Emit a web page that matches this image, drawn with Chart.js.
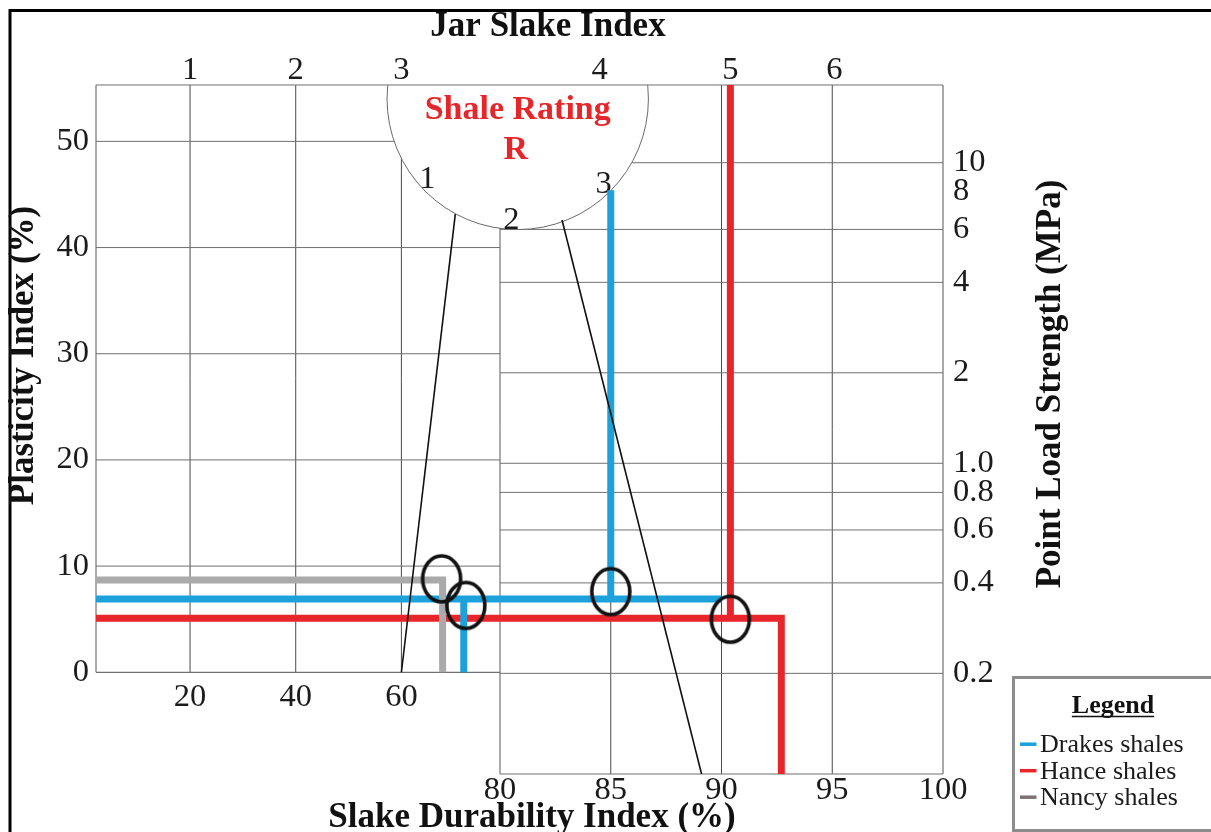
<!DOCTYPE html>
<html lang="en">
<head>
<meta charset="utf-8">
<title>Shale rating nomogram</title>
<script src="https://cdn.jsdelivr.net/npm/chart.js@4.4.1/dist/chart.umd.min.js"></script>
<style>
  html, body { margin: 0; padding: 0; background: #ffffff; overflow: hidden; }
  #wrap { position: relative; width: 1211px; height: 832px; }
</style>
</head>
<body>
<div id="wrap"><canvas id="nomogram"></canvas></div>
<script>
// ---------- tick values ----------
const piTicks      = [0, 10, 20, 30, 40, 50];                  // plasticity index, %
const sdiLowTicks  = [20, 40, 60];                             // slake durability, lower segment, %
const sdiHighTicks = [80, 85, 90, 95, 100];                    // slake durability, upper segment, %
const plsTicks     = [10, 8, 6, 4, 2, 1, 0.8, 0.6, 0.4, 0.2];  // point load strength, MPa
const plsTickText  = ['10', '8', '6', '4', '2', '1.0', '0.8', '0.6', '0.4', '0.2'];
const plsGridLines = [10, 6, 4, 2, 1, 0.8, 0.6, 0.4, 0.2];

// Jar slake classes and the durability column each one is read on
const jarClasses     = ['1', '2', '3', '4', '5', '6'];
const jarColumnsLow  = [20, 40, 60];
const jarColumnsHigh = [84.5, 90.4, 95.1];

// Shale rating classes written inside the rating arc
const ratingClasses = ['1', '2', '3'];

// ---------- scale extents ----------
const PI_RANGE       = [-9.58, 55.31];
const SDI_LOW_RANGE  = [2.2, 162.5];
const SDI_HIGH_RANGE = [61.76, 100];
const PLS_RANGE      = [0.0925, 18.14];

// ---------- shale groups ----------
const shaleNames  = ['Drakes shales', 'Hance shales', 'Nancy shales'];
const shaleColors = ['#1da1db', '#e8252a', '#aaaaaa'];
const legendMarks = ['#1da1db', '#e8252a', '#7c7272'];
const plasticity  = [6.9, 5.1, 8.7];          // PI (%) of Drakes, Hance, Nancy

const drakesDurability = 71.8;                // lower durability segment (%)
const nancyDurability  = 67.8;                // lower durability segment (%)
const hanceDurability  = 92.7;                // upper durability segment (%)
const drakesLineEnd    = 90;                  // Drakes PI line runs on to this column (%)
const drakesRise       = [85, 45.4];          // column (%) and top (PI %) of the Drakes rise
const hanceJarColumn   = 90.4;                // Hance jar slake drop line (%)

// Rings around the reading points  [durability %, PI %]
const ringsLow  = [[67.6, 8.8], [72.2, 6.3]];
const ringsHigh = [[85.0, 7.6], [90.4, 5.0]];

// Rating boundary lines from the arc down to the durability axis  [durability %, PI %]
const ratingLineLow  = [[70.2, 43.15], [60, 0]];
const ratingLineHigh = [[82.8, 42.6], [89.1, PI_RANGE[0]]];

// Rating arc: centre [upper-segment durability %, PI %] and radius in durability %
const ratingCentre = [80.8, 54.0];
const ratingRadius = 5.9;

// ---------- helpers ----------
const SERIF = '"Liberation Serif", "Times New Roman", serif';
const INK = '#1b1b1b';
const tickFont = { family: 'Liberation Serif', size: 32.5, lineHeight: 1 };

const [drakesPI, hancePI, nancyPI] = plasticity;

function pts(list) { return list.map(([x, y]) => ({ x, y })); }

function path(label, list, xAxisID, color, width, order) {
  return {
    label, data: pts(list), xAxisID, yAxisID: 'pi',
    showLine: true, borderColor: color, backgroundColor: color, borderWidth: width,
    pointRadius: 0, pointHoverRadius: 0, borderJoinStyle: 'miter', borderCapStyle: 'butt',
    fill: false, tension: 0, order
  };
}

function makeRing(rx, ry, lw) {
  const c = document.createElement('canvas');
  c.width = Math.ceil(2 * (rx + lw)) + 2;
  c.height = Math.ceil(2 * (ry + lw)) + 2;
  const g = c.getContext('2d');
  g.lineWidth = lw;
  g.strokeStyle = '#111111';
  g.beginPath();
  g.ellipse(c.width / 2, c.height / 2, rx, ry, 0, 0, Math.PI * 2);
  g.stroke();
  return c;
}
const ring = makeRing(19, 23, 3.6);

function rings(list, xAxisID) {
  return {
    label: 'reading', data: pts(list), xAxisID, yAxisID: 'pi', showLine: false,
    pointStyle: ring, pointRadius: 20, pointHoverRadius: 20, order: 0
  };
}

function fixedTicks(values) {
  return (scale) => { scale.ticks = values.map(v => ({ value: v })); };
}

const hiddenGrid = { display: false, drawTicks: false };

// ---------- drawing of frame, grid, rating arc, labels and legend ----------
function line(ctx, x1, y1, x2, y2) {
  ctx.beginPath(); ctx.moveTo(x1, y1); ctx.lineTo(x2, y2); ctx.stroke();
}

const nomogramPlugin = {
  id: 'nomogram',
  beforeDraw(chart) {
    const ctx = chart.ctx;
    ctx.save();
    ctx.fillStyle = '#ffffff';
    ctx.fillRect(0, 0, chart.width, chart.height);
    ctx.strokeStyle = '#000000';
    ctx.lineWidth = 3;
    ctx.beginPath();
    ctx.moveTo(10, chart.height + 2);
    ctx.lineTo(10, 10.5);
    ctx.lineTo(chart.width + 2, 10.5);
    ctx.stroke();
    ctx.restore();
  },
  beforeDatasetsDraw(chart) {
    const ctx = chart.ctx;
    const { left, right, top, bottom } = chart.chartArea;
    const xs = chart.scales.sdiLow, xh = chart.scales.sdiHigh;
    const yp = chart.scales.pi, yl = chart.scales.pls;
    const x80 = xh.getPixelForValue(sdiHighTicks[0]);
    const y0 = yp.getPixelForValue(0);
    ctx.save();
    ctx.lineWidth = 1;

    // durability columns
    ctx.strokeStyle = '#4a4a4a';
    sdiLowTicks.forEach(v => { const x = xs.getPixelForValue(v); line(ctx, x, top, x, y0); });
    sdiHighTicks.slice(1, -1).forEach(v => { const x = xh.getPixelForValue(v); line(ctx, x, top, x, bottom); });

    // plasticity rows (left block) and point load rows (right block)
    ctx.strokeStyle = '#707070';
    piTicks.slice(1).forEach(v => { const y = yp.getPixelForValue(v); line(ctx, left, y, x80, y); });
    plsGridLines.forEach(v => { const y = yl.getPixelForValue(v); line(ctx, x80, y, right, y); });
    ctx.strokeStyle = '#5a5a5a';
    line(ctx, x80, top, x80, bottom);

    // rating arc, white inside
    const cx = xh.getPixelForValue(ratingCentre[0]);
    const cy = yp.getPixelForValue(ratingCentre[1]);
    const r = xh.getPixelForValue(ratingCentre[0] + ratingRadius) - cx;
    ctx.save();
    ctx.beginPath();
    ctx.rect(left - 2, top, right - left + 4, bottom - top);
    ctx.clip();
    ctx.beginPath();
    ctx.arc(cx, cy, r, 0, Math.PI * 2);
    ctx.fillStyle = '#ffffff';
    ctx.fill();
    ctx.strokeStyle = '#6a6a6a';
    ctx.lineWidth = 1;
    ctx.stroke();
    ctx.restore();

    // outline of the two blocks
    ctx.strokeStyle = '#707070';
    ctx.lineWidth = 1.2;
    line(ctx, left, top, right, top);
    line(ctx, left, top, left, y0);
    line(ctx, left, y0, x80, y0);
    line(ctx, x80, bottom, right, bottom);
    line(ctx, right, top, right, bottom);

    // rating title and classes
    ctx.fillStyle = '#e5262b';
    ctx.textAlign = 'center';
    ctx.textBaseline = 'alphabetic';
    ctx.font = `bold 34px ${SERIF}`;
    ctx.fillText('Shale Rating', cx, cy + 19.6);
    ctx.fillText('R', cx - 2, cy + 59.6);

    ctx.fillStyle = INK;
    ctx.font = `32.5px ${SERIF}`;
    const angles = [139, 93, 44];
    ratingClasses.forEach((t, i) => {
      const a = angles[i] * Math.PI / 180;
      const px = cx + Math.cos(a) * r * 0.915;
      const py = cy + Math.sin(a) * r * 0.915;
      ctx.fillText(t, px, py + 10.8);
    });
    ctx.restore();
  },
  afterDraw(chart) {
    const ctx = chart.ctx;
    const xs = chart.scales.sdiLow, xh = chart.scales.sdiHigh;
    ctx.save();
    ctx.fillStyle = INK;
    ctx.textBaseline = 'alphabetic';
    ctx.textAlign = 'center';

    // jar slake classes along the top edge
    ctx.font = `32.5px ${SERIF}`;
    const jarX = jarColumnsLow.map(v => xs.getPixelForValue(v))
      .concat(jarColumnsHigh.map(v => xh.getPixelForValue(v)));
    jarClasses.forEach((t, i) => ctx.fillText(t, jarX[i], 78.5));

    // axis titles
    ctx.fillStyle = '#111111';
    ctx.font = `bold 35px ${SERIF}`;
    ctx.fillText('Jar Slake Index', 548, 35.5);
    ctx.fillText('Slake Durability Index (%)', 532, 827);

    ctx.save();
    ctx.translate(33, 355.5);
    ctx.rotate(-Math.PI / 2);
    ctx.fillText('Plasticity Index (%)', 0, 0);
    ctx.restore();
    ctx.save();
    ctx.translate(1060, 384);
    ctx.rotate(-Math.PI / 2);
    ctx.fillText('Point Load Strength (MPa)', 0, 0);
    ctx.restore();

    // legend box
    ctx.strokeStyle = '#8c8c8c';
    ctx.lineWidth = 3;
    ctx.strokeRect(1013.5, 677.5, 205, 153);
    ctx.font = `bold 26px ${SERIF}`;
    ctx.fillStyle = '#111111';
    ctx.fillText('Legend', 1113, 713);
    const w = ctx.measureText('Legend').width;
    ctx.strokeStyle = '#111111';
    ctx.lineWidth = 1.6;
    line(ctx, 1113 - w / 2, 716.5, 1113 + w / 2, 716.5);

    ctx.font = `26px ${SERIF}`;
    ctx.textAlign = 'left';
    shaleNames.forEach((name, i) => {
      const base = 752 + i * 26.5;
      ctx.strokeStyle = legendMarks[i];
      ctx.lineWidth = 3.5;
      line(ctx, 1020, base - 7.8, 1036.5, base - 7.8);
      ctx.fillStyle = '#1a1a1a';
      ctx.fillText(name, 1040, base);
    });
    ctx.restore();
  }
};

// ---------- chart ----------
const [blue, red, grey] = shaleColors;

const datasets = [
  // Hance shales
  path(shaleNames[1], [[SDI_HIGH_RANGE[0], hancePI], [hanceDurability, hancePI], [hanceDurability, PI_RANGE[0]]], 'sdiHigh', red, 7, 4),
  path(shaleNames[1], [[hanceJarColumn, PI_RANGE[1]], [hanceJarColumn, hancePI]], 'sdiHigh', red, 7, 4),
  // Drakes shales
  path(shaleNames[0], [[SDI_HIGH_RANGE[0], drakesPI], [drakesLineEnd, drakesPI]], 'sdiHigh', blue, 7, 3),
  path(shaleNames[0], [[drakesDurability, drakesPI], [drakesDurability, 0]], 'sdiLow', blue, 7, 3),
  path(shaleNames[0], [[drakesRise[0], drakesRise[1]], [drakesRise[0], drakesPI]], 'sdiHigh', blue, 7, 3),
  // Nancy shales
  path(shaleNames[2], [[SDI_LOW_RANGE[0], nancyPI], [nancyDurability, nancyPI], [nancyDurability, 0]], 'sdiLow', grey, 7, 2),
  // rating boundaries
  path('rating boundary', ratingLineLow, 'sdiLow', '#111111', 1.6, 1),
  path('rating boundary', ratingLineHigh, 'sdiHigh', '#111111', 1.6, 1),
  // reading rings
  rings(ringsLow, 'sdiLow'),
  rings(ringsHigh, 'sdiHigh')
];

new Chart(document.getElementById('nomogram'), {
  type: 'scatter',
  data: { datasets },
  plugins: [nomogramPlugin],
  options: {
    responsive: true,
    maintainAspectRatio: false,
    animation: false,
    events: [],
    layout: { padding: { left: 0, top: 85, right: 208, bottom: 18 } },
    plugins: { legend: { display: false }, tooltip: { enabled: false } },
    scales: {
      pi: {
        type: 'linear', axis: 'y', position: 'left', bounds: 'data',
        min: PI_RANGE[0], max: PI_RANGE[1],
        afterBuildTicks: fixedTicks(piTicks),
        afterFit: s => { s.width = 96; },
        grid: hiddenGrid, border: { display: false },
        ticks: { font: tickFont, color: INK, padding: 7, autoSkip: false }
      },
      pls: {
        type: 'logarithmic', axis: 'y', position: 'right', bounds: 'data',
        min: PLS_RANGE[0], max: PLS_RANGE[1],
        afterBuildTicks: fixedTicks(plsTicks),
        afterFit: s => { s.width = 60; },
        grid: hiddenGrid, border: { display: false },
        ticks: { font: tickFont, color: INK, padding: 10, autoSkip: false,
                 callback: (v, i) => plsTickText[i] }
      },
      sdiLow: {
        type: 'linear', axis: 'x', position: { pi: 0 }, bounds: 'data',
        min: SDI_LOW_RANGE[0], max: SDI_LOW_RANGE[1],
        afterBuildTicks: fixedTicks(sdiLowTicks),
        grid: hiddenGrid, border: { display: false },
        ticks: { font: tickFont, color: INK, padding: 9, autoSkip: false, maxRotation: 0 }
      },
      sdiHigh: {
        type: 'linear', axis: 'x', position: 'bottom', bounds: 'data',
        min: SDI_HIGH_RANGE[0], max: SDI_HIGH_RANGE[1],
        afterBuildTicks: fixedTicks(sdiHighTicks),
        afterFit: s => { s.height = 40; },
        grid: hiddenGrid, border: { display: false },
        ticks: { font: tickFont, color: INK, padding: 0, autoSkip: false, maxRotation: 0 }
      }
    }
  }
});
</script>
</body>
</html>
